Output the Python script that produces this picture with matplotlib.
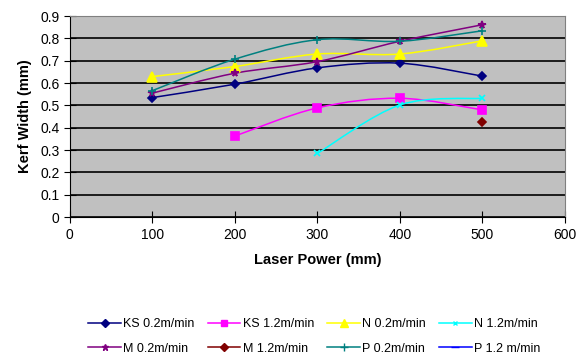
import numpy as np
import matplotlib
matplotlib.use('Agg')
import matplotlib.pyplot as plt
from matplotlib.path import Path
from matplotlib.patches import PathPatch
from matplotlib.lines import Line2D

plt.rcParams['font.family'] = ['Liberation Sans', 'DejaVu Sans']

power = [100, 200, 300, 400, 500]
nan = np.nan

ks_02 = [0.535, 0.595, 0.668, 0.689, 0.631]
ks_12 = [nan, 0.363, 0.489, 0.532, 0.480]
n_02 = [0.629, 0.674, 0.730, 0.730, 0.789]
n_12 = [nan, nan, 0.285, 0.502, 0.532]
m_02 = [0.555, 0.644, 0.696, 0.787, 0.861]
m_12 = [nan, nan, nan, nan, 0.426]
p_02 = [0.566, 0.707, 0.794, 0.787, 0.834]
p_12 = [nan, nan, nan, nan, nan]

series = [
    ('KS 0.2m/min', ks_02, '#000080', 'D', 4.5),
    ('KS 1.2m/min', ks_12, '#FF00FF', 's', 5.5),
    ('N 0.2m/min', n_02, '#FFFF00', '^', 6.5),
    ('N 1.2m/min', n_12, '#00FFFF', 'x', 4),
    ('M 0.2m/min', m_02, '#800080', '*', 5.5),
    ('M 1.2m/min', m_12, '#800000', 'D', 4.5),
    ('P 0.2m/min', p_02, '#008080', '+', 6),
    ('P 1.2 m/min', p_12, '#0000FF', '_', 6),
]


def smooth_path(x, y, k=1/6):
    # Catmull-Rom style bezier through the points (like Excel smoothed lines)
    pts = np.column_stack([x, y])
    verts = [pts[0]]
    codes = [Path.MOVETO]
    n = len(pts)
    for i in range(n - 1):
        p0 = pts[i - 1] if i > 0 else pts[i]
        p1 = pts[i]
        p2 = pts[i + 1]
        p3 = pts[i + 2] if i + 2 < n else pts[i + 1]
        c1 = p1 + (p2 - p0) * k
        c2 = p2 - (p3 - p1) * k
        verts += [c1, c2, p2]
        codes += [Path.CURVE4] * 3
    return Path(verts, codes)


fig = plt.figure(figsize=(5.77, 3.56), dpi=100)
ax = fig.add_axes([0.121, 0.390, 0.858, 0.565])
ax.set_facecolor('#C0C0C0')

handles = []
for label, vals, color, marker, ms in series:
    y = np.array(vals, dtype=float)
    ok = ~np.isnan(y)
    xs = np.array(power, dtype=float)[ok]
    ys = y[ok]
    if len(xs) > 1:
        ax.add_patch(PathPatch(smooth_path(xs, ys), fc='none', ec=color, lw=1.1, zorder=2))
    ax.plot(xs, ys, ls='none', color=color, marker=marker, ms=ms, mew=1.2, zorder=3)
    handles.append(Line2D([], [], color=color, marker=marker, ms=ms * 0.85, mew=1.0,
                          lw=1.1, label=label))

ax.set_xlim(0, 600)
ax.set_ylim(0, 0.9)
ax.set_xticks(range(0, 601, 100))
ax.set_yticks(np.arange(0, 0.91, 0.1))
ax.set_yticklabels(['0', '0.1', '0.2', '0.3', '0.4', '0.5', '0.6', '0.7', '0.8', '0.9'])
ax.yaxis.grid(True, color='black', lw=1.2)
ax.set_axisbelow(True)
ax.tick_params(direction='inout', length=8, labelsize=10, color='black')
for side in ['top', 'right']:
    ax.spines[side].set_color('#808080')
for side in ['left', 'bottom']:
    ax.spines[side].set_color('black')

ax.set_xlabel('Laser Power (mm)', fontsize=10.5, fontweight='bold', labelpad=8)
ax.set_ylabel('Kerf Width (mm)', fontsize=10.5, fontweight='bold', labelpad=6)

# legend fills row by row: reorder handles for matplotlib's column-major layout
ncol = 4
order = [handles[r * ncol + c] for c in range(ncol) for r in range(2)]
fig.legend(handles=order, loc='lower center', bbox_to_anchor=(0.545, -0.028), ncol=ncol,
           frameon=False, fontsize=9, handlelength=2.6, columnspacing=1.05,
           handletextpad=0.2, labelspacing=1.0)

fig.savefig('out.png', dpi=100)
